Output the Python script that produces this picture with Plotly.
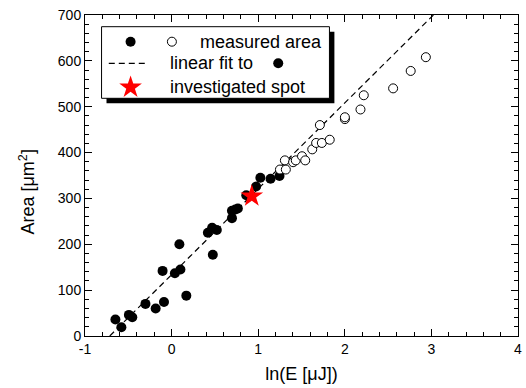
import plotly.graph_objects as go

# ---- data ----
filled_x = [-0.649, -0.580, -0.493, -0.454, -0.302, -0.184, -0.088, -0.104, 0.090, 0.038,
            0.102, 0.170, 0.419, 0.468, 0.522, 0.476, 0.697, 0.697, 0.736, 0.765,
            0.862, 0.976, 1.025, 1.143, 1.246]
filled_y = [36, 19, 46, 41, 70, 60, 74, 142, 200, 137,
            145, 88, 225, 236, 231, 177, 257, 273, 276, 278,
            307, 326, 345, 343, 349]

open_x = [1.251, 1.319, 1.308, 1.403, 1.434, 1.506, 1.543, 1.624, 1.669, 1.735,
          1.826, 1.712, 2.001, 2.001, 2.181, 2.219, 2.558, 2.761, 2.936]
open_y = [363, 363, 383, 379, 383, 392, 383, 407, 421, 421,
          428, 460, 473, 477, 494, 525, 540, 578, 608]

spot_x = [0.926]
spot_y = [305]

fit_slope = 187.3
fit_intercept = 133.7
fit_x = [-0.714, 3.023]
fit_y = [fit_intercept + fit_slope * v for v in fit_x]

x_ticks = [-1, 0, 1, 2, 3, 4]
y_ticks = [0, 100, 200, 300, 400, 500, 600, 700]

legend_labels = ["measured area", "linear fit to", "investigated spot"]

FONT = "Liberation Sans, Arial, sans-serif"
DASH = "6px,4px"

fig = go.Figure()

fig.add_trace(go.Scatter(x=fit_x, y=fit_y, mode="lines",
                         line=dict(color="black", width=1.2, dash=DASH),
                         showlegend=False, hoverinfo="skip"))
fig.add_trace(go.Scatter(x=filled_x, y=filled_y, mode="markers",
                         marker=dict(symbol="circle", size=10, color="black"),
                         showlegend=False))
fig.add_trace(go.Scatter(x=open_x, y=open_y, mode="markers",
                         marker=dict(symbol="circle", size=9, color="white",
                                     line=dict(color="black", width=1)),
                         showlegend=False))
fig.add_trace(go.Scatter(x=spot_x, y=spot_y, mode="markers",
                         marker=dict(symbol="star", size=17, color="red",
                                     line=dict(width=0)),
                         showlegend=False))

# ---- hand-drawn legend box (pixel-based layout constants) ----
L, R, T, B = 85.0, 522.0, 15.0, 336.0
def px(x):
    return (x - L) / (R - L)
def py(y):
    return (B - y) / (B - T)

shadow = 5
box = (101.7, 26.7, 331.7, 98.3)
fig.add_shape(type="rect", xref="paper", yref="paper",
              x0=px(box[0] + shadow), x1=px(box[2] + shadow),
              y0=py(box[3] + shadow), y1=py(box[1] + shadow),
              fillcolor="black", line=dict(width=0), layer="below")
fig.add_shape(type="rect", xref="paper", yref="paper",
              x0=px(box[0]), x1=px(box[2]), y0=py(box[3]), y1=py(box[1]),
              fillcolor="white", line=dict(color="black", width=1), layer="below")

row_y = [41.7, 63.3, 87.3]
# legend symbols on an overlay axis spanning the plot area in 0..1
fig.add_trace(go.Scatter(x=[px(131), px(280)], y=[py(row_y[0]), py(row_y[1])], mode="markers",
                         marker=dict(symbol="circle", size=10, color="black"),
                         xaxis="x2", yaxis="y2", showlegend=False, hoverinfo="skip"))
fig.add_trace(go.Scatter(x=[px(172.7)], y=[py(row_y[0])], mode="markers",
                         marker=dict(symbol="circle", size=9, color="white",
                                     line=dict(color="black", width=1)),
                         xaxis="x2", yaxis="y2", showlegend=False, hoverinfo="skip"))
fig.add_trace(go.Scatter(x=[px(109), px(149)], y=[py(row_y[1]), py(row_y[1])], mode="lines",
                         line=dict(color="black", width=1.2, dash=DASH),
                         xaxis="x2", yaxis="y2", showlegend=False, hoverinfo="skip"))
fig.add_trace(go.Scatter(x=[px(131)], y=[py(row_y[2])], mode="markers",
                         marker=dict(symbol="star", size=17, color="red", line=dict(width=0)),
                         xaxis="x2", yaxis="y2", showlegend=False, hoverinfo="skip"))

text_x = [199.3, 168.3, 168.3]
for lab, tx, ty in zip(legend_labels, text_x, row_y):
    fig.add_annotation(xref="paper", yref="paper", x=px(tx), y=py(ty),
                       text=lab, showarrow=False, xanchor="left", yanchor="middle",
                       font=dict(family=FONT, size=18, color="black"))

# y-axis title as rotated annotation
fig.add_annotation(xref="paper", yref="paper", x=px(27), y=py(192),
                   text="Area [μm<sup>2</sup>]", textangle=-90, showarrow=False,
                   xanchor="center", yanchor="middle",
                   font=dict(family=FONT, size=18, color="black"))

axis_common = dict(showgrid=False, zeroline=False, showline=True, linecolor="black",
                   linewidth=1, mirror="ticks", ticks="inside", ticklen=7, tickwidth=1,
                   tickcolor="black", ticklabeloverflow="allow",
                   tickfont=dict(family=FONT, size=14, color="black"))

fig.update_layout(
    width=526, height=388,
    margin=dict(l=85, r=4, t=15, b=52),
    paper_bgcolor="white", plot_bgcolor="white",
    showlegend=False,
    xaxis=dict(range=[-1, 4], tickvals=x_ticks, ticktext=[str(v) for v in x_ticks],
               minor=dict(dtick=0.2, ticks="inside", ticklen=4, tickcolor="black", tickwidth=1),
               title=dict(text="ln(E [μJ])", font=dict(family=FONT, size=18, color="black"),
                          standoff=11),
               **axis_common),
    yaxis=dict(range=[0, 700], tickvals=y_ticks, ticktext=[str(v) for v in y_ticks],
               minor=dict(dtick=20, ticks="inside", ticklen=4, tickcolor="black", tickwidth=1),
               **axis_common),
    xaxis2=dict(range=[0, 1], overlaying="x", visible=False, fixedrange=True),
    yaxis2=dict(range=[0, 1], overlaying="y", visible=False, fixedrange=True),
)

fig.write_html("out.html")
